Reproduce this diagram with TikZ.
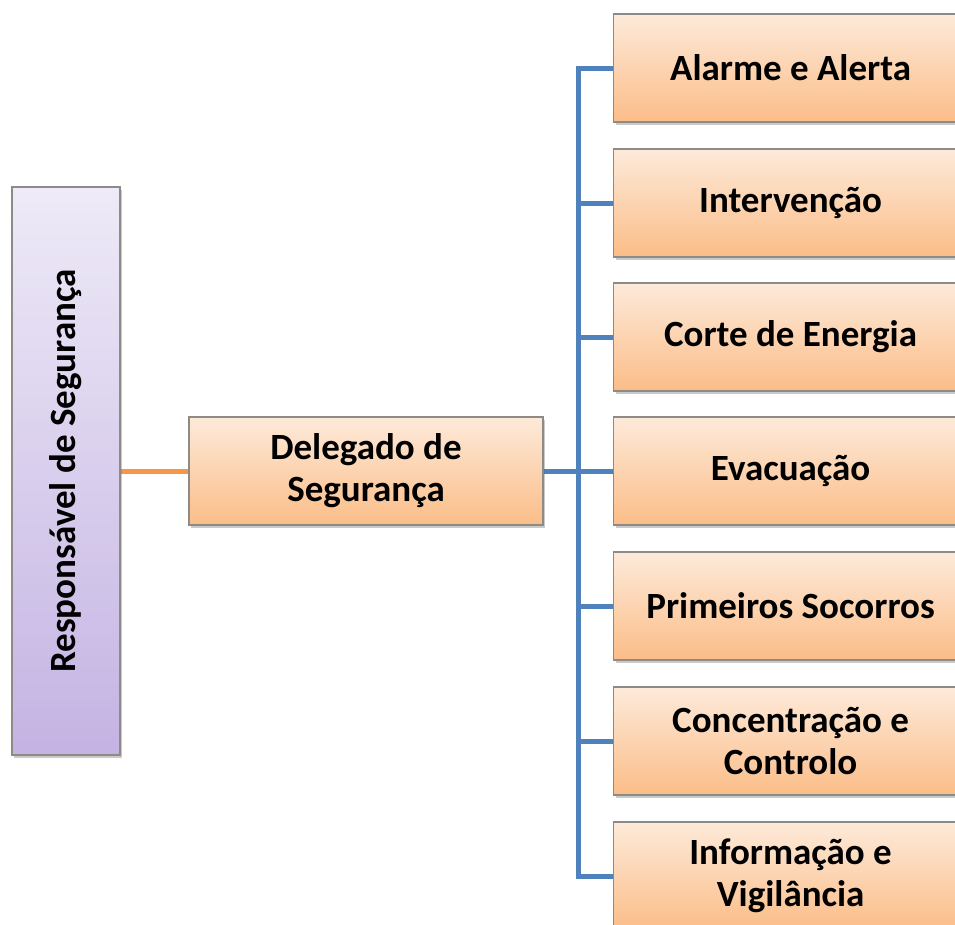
\documentclass[tikz,border=0pt]{standalone}
\usepackage{fontspec}
\setmainfont{Carlito}
\usetikzlibrary{shadows}
\definecolor{peachtop}{HTML}{FDEADA}
\definecolor{peachbot}{HTML}{FBBD88}
\definecolor{purptop}{HTML}{EEEAF7}
\definecolor{purpbot}{HTML}{C4B3E3}
\definecolor{boxline}{HTML}{8E8A86}
\definecolor{linkblue}{HTML}{4F81BD}
\definecolor{linkorange}{HTML}{F79646}
\tikzset{
  orgbox/.style={draw=boxline, line width=1.2pt, top color=peachtop, bottom color=peachbot,
    minimum width=354pt, minimum height=108pt, inner sep=0pt, align=center,
    font=\fontsize{37}{42}\selectfont\bfseries,
    drop shadow={shadow xshift=2pt, shadow yshift=-3pt, opacity=0.35, fill=black!60}},
  respbox/.style={draw=boxline, line width=1.2pt, top color=purptop, bottom color=purpbot,
    minimum width=108pt, minimum height=568pt, inner sep=0pt,
    drop shadow={shadow xshift=2pt, shadow yshift=-3pt, opacity=0.35, fill=black!60}},
  bluelink/.style={draw=linkblue, line width=5pt, line join=miter},
  orangelink/.style={draw=linkorange, line width=5pt},
}
\begin{document}
\begin{tikzpicture}[x=1pt,y=-1pt]
\useasboundingbox (0,0) rectangle (955,924);
\coordinate (trunk) at (578,471);
% connectors
\draw[orangelink] (120,471) -- (189,471);
\draw[bluelink] (543,471) -- (trunk);
\foreach \cy in {68,203,337,471,606,741,876} {
  \draw[bluelink] (trunk) |- (613,\cy);
}
% boxes
\node[respbox] (resp) at (66,471) {};
\node[rotate=90, font=\fontsize{37}{42}\selectfont\bfseries] (resptext) at (resp.center) {Responsável de Segurança};
\node[orgbox] (del) at (366,471) {Delegado de\\Segurança};
\node[orgbox, anchor=west] (b1) at (613,68) {Alarme e Alerta};
\node[orgbox, anchor=west] (b2) at (613,203) {Intervenção};
\node[orgbox, anchor=west] (b3) at (613,337) {Corte de Energia};
\node[orgbox, anchor=west] (b4) at (613,471) {Evacuação};
\node[orgbox, anchor=west] (b5) at (613,606) {Primeiros Socorros};
\node[orgbox, anchor=west] (b6) at (613,741) {Concentração e\\Controlo};
\node[orgbox, anchor=west] (b7) at (613,876) {Informação e\\Vigilância};
\end{tikzpicture}
\end{document}
